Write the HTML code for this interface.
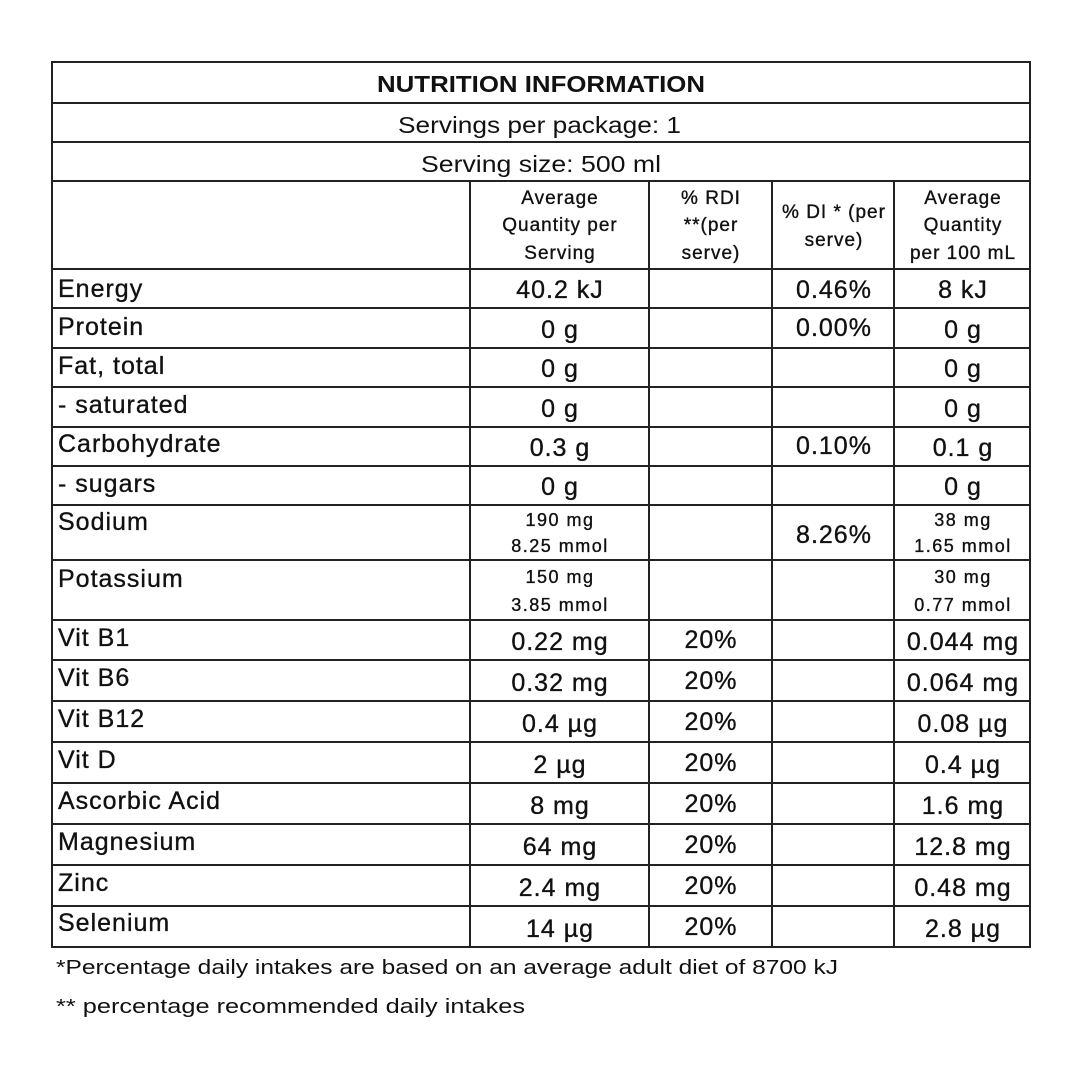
<!DOCTYPE html><html><head><style>body{margin:0;background:#fff}svg{display:block}</style></head><body>
<svg width="1080" height="1080" xmlns="http://www.w3.org/2000/svg" font-family="Liberation Sans, Arial, sans-serif" fill="#111">
<g stroke="#222" stroke-width="2" fill="none">
<rect x="52" y="62" width="978" height="885"/>
<line x1="52" y1="103" x2="1030" y2="103"/><line x1="52" y1="142" x2="1030" y2="142"/><line x1="52" y1="181" x2="1030" y2="181"/>
<line x1="52" y1="269" x2="1030" y2="269"/><line x1="52" y1="308" x2="1030" y2="308"/><line x1="52" y1="348" x2="1030" y2="348"/>
<line x1="52" y1="387" x2="1030" y2="387"/><line x1="52" y1="427" x2="1030" y2="427"/><line x1="52" y1="466" x2="1030" y2="466"/>
<line x1="52" y1="505" x2="1030" y2="505"/><line x1="52" y1="560" x2="1030" y2="560"/><line x1="52" y1="620" x2="1030" y2="620"/>
<line x1="52" y1="660" x2="1030" y2="660"/><line x1="52" y1="701" x2="1030" y2="701"/><line x1="52" y1="742" x2="1030" y2="742"/>
<line x1="52" y1="783" x2="1030" y2="783"/><line x1="52" y1="824" x2="1030" y2="824"/><line x1="52" y1="865" x2="1030" y2="865"/>
<line x1="52" y1="906" x2="1030" y2="906"/>
<line x1="470" y1="181" x2="470" y2="947"/><line x1="649" y1="181" x2="649" y2="947"/><line x1="772" y1="181" x2="772" y2="947"/><line x1="894" y1="181" x2="894" y2="947"/>
</g>
<text x="377" y="92" font-size="23" font-weight="bold" textLength="328" lengthAdjust="spacingAndGlyphs">NUTRITION INFORMATION</text>
<text x="398" y="133" font-size="23" textLength="283" lengthAdjust="spacingAndGlyphs">Servings per package: 1</text>
<text x="421" y="172" font-size="23" textLength="240" lengthAdjust="spacingAndGlyphs">Serving size: 500 ml</text>
<g text-anchor="middle" stroke="#111" stroke-width="0.35">
<g font-size="19" letter-spacing="1"><text x="560" y="204">Average</text><text x="560" y="231">Quantity per</text><text x="560" y="259">Serving</text>
<text x="711" y="204">% RDI</text><text x="711" y="231">**(per</text><text x="711" y="259">serve)</text>
<text x="834" y="218">% DI * (per</text><text x="834" y="246">serve)</text>
<text x="963" y="204">Average</text><text x="963" y="231">Quantity</text><text x="963" y="259">per 100 mL</text></g>
<g font-size="25" letter-spacing="1">
<text x="560" y="298">40.2 kJ</text><text x="834" y="298">0.46%</text><text x="963" y="298">8 kJ</text>
<text x="560" y="338">0 g</text><text x="834" y="336">0.00%</text><text x="963" y="338">0 g</text>
<text x="560" y="377">0 g</text><text x="963" y="377">0 g</text>
<text x="560" y="417">0 g</text><text x="963" y="417">0 g</text>
<text x="560" y="456">0.3 g</text><text x="834" y="454">0.10%</text><text x="963" y="456">0.1 g</text>
<text x="560" y="495">0 g</text><text x="963" y="495">0 g</text>
<text x="834" y="543">8.26%</text>
<text x="560" y="650">0.22 mg</text><text x="711" y="648">20%</text><text x="963" y="650">0.044 mg</text>
<text x="560" y="691">0.32 mg</text><text x="711" y="689">20%</text><text x="963" y="691">0.064 mg</text>
<text x="560" y="732">0.4 µg</text><text x="711" y="730">20%</text><text x="963" y="732">0.08 µg</text>
<text x="560" y="773">2 µg</text><text x="711" y="771">20%</text><text x="963" y="773">0.4 µg</text>
<text x="560" y="814">8 mg</text><text x="711" y="812">20%</text><text x="963" y="814">1.6 mg</text>
<text x="560" y="855">64 mg</text><text x="711" y="853">20%</text><text x="963" y="855">12.8 mg</text>
<text x="560" y="896">2.4 mg</text><text x="711" y="894">20%</text><text x="963" y="896">0.48 mg</text>
<text x="560" y="937">14 µg</text><text x="711" y="935">20%</text><text x="963" y="937">2.8 µg</text></g>
<g font-size="18" letter-spacing="1.5"><text x="560" y="526">190 mg</text><text x="560" y="552">8.25 mmol</text><text x="963" y="526">38 mg</text><text x="963" y="552">1.65 mmol</text>
<text x="560" y="583">150 mg</text><text x="560" y="611">3.85 mmol</text><text x="963" y="583">30 mg</text><text x="963" y="611">0.77 mmol</text></g>
</g>
<g font-size="25" letter-spacing="1" stroke="#111" stroke-width="0.35">
<text x="58" y="297">Energy</text><text x="58" y="335">Protein</text><text x="58" y="374">Fat, total</text><text x="58" y="413">- saturated</text>
<text x="58" y="452">Carbohydrate</text><text x="58" y="492">- sugars</text><text x="58" y="530">Sodium</text><text x="58" y="587">Potassium</text>
<text x="58" y="646">Vit B1</text><text x="58" y="686">Vit B6</text><text x="58" y="727">Vit B12</text><text x="58" y="768">Vit D</text>
<text x="58" y="809">Ascorbic Acid</text><text x="58" y="850">Magnesium</text><text x="58" y="891">Zinc</text><text x="58" y="931">Selenium</text></g>
<text x="56" y="974" font-size="20" textLength="782" lengthAdjust="spacingAndGlyphs">*Percentage daily intakes are based on an average adult diet of 8700 kJ</text>
<text x="56" y="1013" font-size="20" textLength="469" lengthAdjust="spacingAndGlyphs">** percentage recommended daily intakes</text>
</svg></body></html>
